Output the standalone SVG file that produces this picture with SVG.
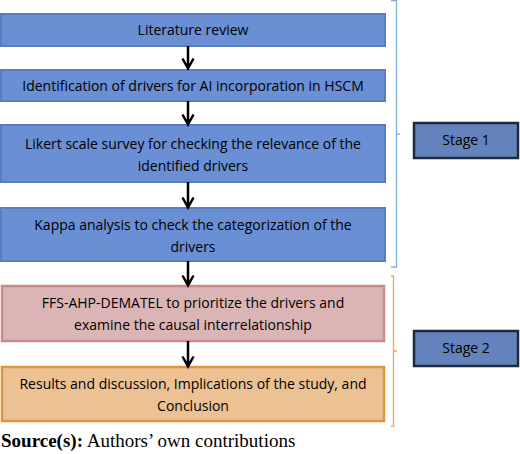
<svg xmlns="http://www.w3.org/2000/svg" width="520" height="454" viewBox="0 0 520 454">
<style>
.t{font-family:"Open Sans","Liberation Sans",sans-serif;font-size:14px;fill:#000;text-anchor:middle}
.blue{fill:#6a8fd4;stroke:#5b7dbf;stroke-width:2}
.pink{fill:#dbb5b5;stroke:#c88c8d;stroke-width:2.5}
.orange{fill:#ecc193;stroke:#e8923d;stroke-width:2.5}
.stage{fill:#6482bb;stroke:#1d2a40;stroke-width:2.5}
.arr{stroke:#000;stroke-width:2.5;fill:none}
.br1{stroke:#7fb2d8;stroke-width:1.3;fill:none}
.br2{stroke:#f0a55a;stroke-width:1.3;fill:none}
</style>
<rect width="520" height="454" fill="#fff"/>
<g id="n1"><rect class="blue" x="1" y="14" width="384" height="32"/><text class="t" x="193" y="35">Literature review</text></g>
<g id="n2"><rect class="blue" x="1" y="70" width="384" height="31"/><text class="t" x="193" y="91">Identification of drivers for AI incorporation in HSCM</text></g>
<g id="n3"><rect class="blue" x="1" y="125" width="384" height="57"/><text class="t" x="193" y="149">Likert scale survey for checking the relevance of the</text><text class="t" x="193" y="171">identified drivers</text></g>
<g id="n4"><rect class="blue" x="1" y="208" width="384" height="53"/><text class="t" x="193" y="230">Kappa analysis to check the categorization of the</text><text class="t" x="193" y="252">drivers</text></g>
<g id="n5"><rect class="pink" x="2" y="286" width="382" height="55"/><text class="t" x="193" y="308">FFS-AHP-DEMATEL to prioritize the drivers and</text><text class="t" x="193" y="330">examine the causal interrelationship</text></g>
<g id="n6"><rect class="orange" x="2" y="367" width="382" height="54"/><text class="t" x="193" y="389">Results and discussion, Implications of the study, and</text><text class="t" x="193" y="411">Conclusion</text></g>
<g id="stage1"><rect class="stage" x="414" y="123" width="104" height="35"/><text class="t" x="466" y="145">Stage 1</text></g>
<g id="stage2"><rect class="stage" x="414" y="331" width="104" height="35"/><text class="t" x="466" y="353">Stage 2</text></g>
<g id="connectors">
<path class="arr" d="M188 46V68M182.5 58.5L188 68.5L193.5 58.5"/>
<path class="arr" d="M188 101V124M182.5 114.5L188 124.5L193.5 114.5"/>
<path class="arr" d="M188 182V207M182.5 197.5L188 207.5L193.5 197.5"/>
<path class="arr" d="M188 261V285M182.5 275.5L188 285.5L193.5 275.5"/>
<path class="arr" d="M188 341V366M182.5 356.5L188 366.5L193.5 356.5"/>
<path class="br1" d="M391 0.7H396.5V134H400M396.5 134V267H391"/>
<path class="br2" d="M391 276H393.5V351H397M393.5 351V426H391"/>
</g>
<text x="1" y="447" style="font-family:'Liberation Serif',serif;font-size:19px"><tspan font-weight="bold">Source(s):</tspan> Authors’ own contributions</text>
</svg>
